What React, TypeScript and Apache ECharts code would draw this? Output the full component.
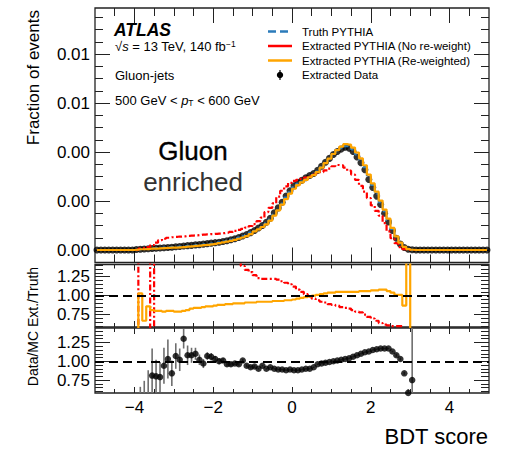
import React, { useEffect, useRef } from 'react';
import * as echarts from 'echarts';

// ---- binning ----
const binStart = -4.95; // centre of first bin (top panel)
const binWidth = 0.1;
const ratioStart = -3.95; // centre of first bin in ratio arrays

// ---- top panel: fraction of events (in units of 1e-3) ----
const dataFrac = [
  0, 0, 0, 0, 0, 0, 0, 0, 0, 0,
  0.02, 0.03, 0.04, 0.05, 0.06, 0.07, 0.08, 0.09, 0.10, 0.11,
  0.13, 0.14, 0.16, 0.18, 0.19, 0.21, 0.22, 0.24, 0.26, 0.28,
  0.30, 0.32, 0.35, 0.38, 0.42, 0.46, 0.51, 0.57, 0.63, 0.71,
  0.80, 0.90, 1.00, 1.13, 1.30, 1.52, 1.72, 1.95, 2.20, 2.42,
  2.62, 2.75, 2.85, 2.95, 3.04, 3.12, 3.25, 3.42, 3.58, 3.74,
  3.90, 4.02, 4.12, 4.20, 4.16, 4.02, 3.80, 3.56, 3.28, 2.88,
  2.55, 2.20, 1.86, 1.50, 1.14, 0.80, 0.48, 0.24, 0.10, 0.03,
  0.01, 0, 0, 0, 0, 0, 0, 0, 0, 0,
  0, 0, 0, 0, 0, 0, 0, 0, 0, 0,
];
const truthFrac = [
  0, 0, 0, 0, 0, 0, 0, 0, 0, 0,
  0.02, 0.03, 0.04, 0.05, 0.07, 0.08, 0.09, 0.10, 0.11, 0.12,
  0.13, 0.14, 0.15, 0.17, 0.18, 0.20, 0.21, 0.23, 0.25, 0.27,
  0.29, 0.32, 0.35, 0.38, 0.42, 0.46, 0.51, 0.56, 0.63, 0.71,
  0.78, 0.87, 0.97, 1.09, 1.25, 1.45, 1.66, 1.90, 2.14, 2.36,
  2.56, 2.70, 2.80, 2.90, 3.00, 3.08, 3.20, 3.38, 3.55, 3.72,
  3.90, 4.04, 4.16, 4.24, 4.22, 4.10, 3.90, 3.66, 3.38, 3.00,
  2.65, 2.30, 1.95, 1.58, 1.22, 0.86, 0.54, 0.28, 0.12, 0.04,
  0.01, 0, 0, 0, 0, 0, 0, 0, 0, 0,
  0, 0, 0, 0, 0, 0, 0, 0, 0, 0,
];
const noReweightFrac = [
  0, 0, 0, 0, 0, 0, 0, 0, 0, 0,
  0, 0.06, 0.08, 0.12, 0.2, 0.30, 0.40, 0.46, 0.50, 0.52,
  0.54, 0.55, 0.56, 0.58, 0.59, 0.60, 0.61, 0.63, 0.64, 0.65,
  0.66, 0.67, 0.69, 0.71, 0.74, 0.78, 0.82, 0.86, 0.91, 0.98,
  1.06, 1.18, 1.32, 1.55, 1.72, 1.90, 2.18, 2.42, 2.60, 2.74,
  2.82, 2.86, 2.90, 2.96, 3.02, 3.08, 3.13, 3.18, 3.25, 3.32,
  3.42, 3.47, 3.46, 3.36, 3.24, 3.08, 2.86, 2.62, 2.38, 2.12,
  1.82, 1.60, 1.40, 1.10, 0.76, 0.48, 0.28, 0.12, 0.04, 0.01,
  0, 0, 0, 0, 0, 0, 0, 0, 0, 0,
  0, 0, 0, 0, 0, 0, 0, 0, 0, 0,
];
const reweightFrac = [
  0, 0, 0, 0, 0, 0, 0, 0, 0, 0,
  0.01, 0.03, 0.03, 0.04, 0.06, 0.06, 0.07, 0.08, 0.09, 0.10,
  0.10, 0.11, 0.12, 0.14, 0.15, 0.17, 0.18, 0.20, 0.21, 0.23,
  0.25, 0.28, 0.31, 0.34, 0.37, 0.41, 0.46, 0.51, 0.57, 0.65,
  0.76, 0.84, 0.94, 1.05, 1.20, 1.40, 1.62, 1.85, 2.08, 2.30,
  2.50, 2.65, 2.76, 2.86, 2.97, 3.06, 3.18, 3.36, 3.55, 3.73,
  3.92, 4.08, 4.22, 4.32, 4.30, 4.18, 3.98, 3.74, 3.46, 3.08,
  2.72, 2.38, 2.02, 1.65, 1.28, 0.90, 0.56, 0.30, 0.13, 0.04,
  0.01, 0, 0, 0, 0, 0, 0, 0, 0, 0,
  0, 0, 0, 0, 0, 0, 0, 0, 0, 0,
];

// ---- middle panel: Extracted / Truth (bins -3.95 ... 3.05) ----
const ratioNoReweight = [
  0.3, 2, 2, 2, 0.3,
  2, 2, 2, 2, 2, 2, 2, 2, 2, 2, 2, 2, 2, 2, 2, 2, 2, 2, 2, 2, 2,
  1.45, 1.39, 1.34, 1.31, 1.27, 1.23, 1.22, 1.22, 1.22, 1.22,
  1.21, 1.19, 1.17, 1.15, 1.12, 1.08, 1.05, 1.02, 0.99, 0.96,
  0.94, 0.92, 0.91, 0.89, 0.88, 0.87, 0.85, 0.84, 0.83, 0.81,
  0.79, 0.78, 0.75, 0.72, 0.70, 0.67, 0.64, 0.62, 0.61, 0.60,
  0.60, 0.60, null, null, null,
];
const ratioReweight = [
  0.3, 1.03, 0.67, 0.86, 0.81,
  0.80, 0.80, 0.79, 0.80, 0.80, 0.79, 0.79, 0.80, 0.81, 0.83,
  0.84, 0.84, 0.85, 0.86, 0.86, 0.87, 0.88, 0.88, 0.89, 0.89,
  0.90, 0.90, 0.90, 0.91, 0.91, 0.91, 0.92, 0.92, 0.92, 0.92,
  0.93, 0.93, 0.93, 0.94, 0.94, 0.95, 0.96, 0.97, 0.98, 0.99,
  1.00, 1.01, 1.02, 1.03, 1.04, 1.04, 1.05, 1.05, 1.05, 1.05,
  1.05, 1.05, 1.06, 1.06, 1.06, 1.07, 1.07, 1.08, 1.08, 1.06,
  1.04, 1.01, 1.01, 0.87, 2, 0.3,
];

// ---- bottom panel: Data / MC (bins -3.95 ... 3.05) ----
const dataMcRatio = [
  null, 0.30, 0.40, 0.50, 0.81,
  0.80, 0.79, 0.94, 1.03, 0.84, 1.07, 1.02, 1.30, 1.08, 1.08,
  1.10, 1.02, 0.97, 1.07, 1.06, 1.03, 1.00, 1.01, 0.96, 0.96,
  0.97, 0.96, 1.01, 0.94, 0.92, 0.93, 0.90, 0.94, 0.90, 0.92,
  0.90, 0.89, 0.89, 0.88, 0.89, 0.88, 0.88, 0.89, 0.90, 0.90,
  0.92, 0.96, 0.97, 0.98, 0.99, 1.00, 1.01, 1.02, 1.03, 1.04,
  1.06, 1.08, 1.10, 1.12, 1.13, 1.15, 1.16, 1.17, 1.17, 1.17,
  1.13, 1.08, 1.03, 0.84, 0.58, 0.75,
];
const dataMcErr = [
  null, 0.36, 0.34, 0.38, 0.36,
  0.22, 0.20, 0.24, 0.26, 0.17, 0.17, 0.15, 0.13, 0.13, 0.10,
  0.08, 0.07, 0.06, 0.05, 0.05, 0.04, 0.04, 0.03, 0.03, 0.03,
  0.02, 0.02, 0.02, 0.02, 0.02, 0.02, 0.01, 0.01, 0.01, 0.01,
  0.01, 0.01, 0.01, 0.01, 0.01, 0.01, 0.01, 0.01, 0.01, 0.01,
  0.01, 0.01, 0.01, 0.01, 0.01, 0.01, 0.01, 0.01, 0.01, 0.01,
  0.01, 0.01, 0.01, 0.01, 0.01, 0.01, 0.01, 0.01, 0.01, 0.01,
  0.01, 0.02, 0.02, 0.02, 0.05, 1.0,
];

// ---- ticks ----
const xMajorTicks = [-4, -2, 0, 2, 4];
const xMinorTicks = [-4.5, -3.5, -3, -2.5, -1.5, -1, -0.5, 0.5, 1, 1.5, 2.5, 3, 3.5, 4.5];
const yTopMajorTicks = [0, 0.002, 0.004, 0.006, 0.008];
const yTopMinorTicks = [0.0005, 0.001, 0.0015, 0.0025, 0.003, 0.0035, 0.0045, 0.005, 0.0055,
  0.0065, 0.007, 0.0075, 0.0085, 0.009, 0.0095];
const ratioMajorTicks = [0.75, 1.0, 1.25];
const ratioMinorTicks = [0.6, 0.65, 0.7, 0.8, 0.85, 0.9, 0.95, 1.05, 1.1, 1.15, 1.2, 1.3, 1.35, 1.4];

const FONT = '"Liberation Sans", Arial, Helvetica, sans-serif';
const FRAME = '#222';

const centre = (start: number, i: number) => Math.round((start + i * binWidth) * 100) / 100;

export default function App() {
  const ref = useRef<HTMLDivElement>(null);

  useEffect(() => {
    if (!ref.current) return;
    const chart = echarts.init(ref.current, undefined, { renderer: 'svg' });

    const top = (arr: number[]) => arr.map((v, i) => [centre(binStart, i), v * 1e-3]);
    const rat = (arr: (number | null)[]) =>
      arr.map((v, i) => [centre(ratioStart, i), v === null ? null : v]);

    const tickStyle = { color: FRAME, width: 1 };
    const noLine = { show: false, onZero: false };
    const xAxesFor = (g: number, majLen: number, minLen: number, labels: boolean) => {
      const common: any = {
        type: 'value', gridIndex: g, min: -5, max: 5,
        splitLine: { show: false }, axisLine: noLine,
      };
      const lab = labels
        ? {
            show: true, customValues: xMajorTicks, margin: 6, fontSize: 17, color: '#000',
            fontFamily: FONT,
            formatter: (v: number) => (v < 0 ? '\u2212' + Math.abs(v) : String(v)),
          }
        : { show: false };
      return [
        { ...common, position: 'bottom', axisTick: { show: true, inside: true, length: majLen, customValues: xMajorTicks, lineStyle: tickStyle }, axisLabel: lab },
        { ...common, position: 'bottom', axisTick: { show: true, inside: true, length: minLen, customValues: xMinorTicks, lineStyle: tickStyle }, axisLabel: { show: false } },
        { ...common, position: 'top', axisTick: { show: true, inside: true, length: majLen, customValues: xMajorTicks, lineStyle: tickStyle }, axisLabel: { show: false } },
        { ...common, position: 'top', axisTick: { show: true, inside: true, length: minLen, customValues: xMinorTicks, lineStyle: tickStyle }, axisLabel: { show: false } },
      ];
    };
    const yAxesFor = (g: number, min: number, max: number, major: number[], minor: number[], fmt: (v: number) => string) => {
      const common: any = {
        type: 'value', gridIndex: g, min, max,
        splitLine: { show: false }, axisLine: noLine,
      };
      return [
        {
          ...common, position: 'left',
          axisTick: { show: true, inside: true, length: 15, customValues: major, lineStyle: tickStyle },
          axisLabel: { show: true, customValues: major, margin: 5, fontSize: 17, color: '#000', fontFamily: FONT, formatter: fmt },
        },
        { ...common, position: 'left', axisTick: { show: true, inside: true, length: 8, customValues: minor, lineStyle: tickStyle }, axisLabel: { show: false } },
        { ...common, position: 'right', axisTick: { show: true, inside: true, length: 15, customValues: major, lineStyle: tickStyle }, axisLabel: { show: false } },
        { ...common, position: 'right', axisTick: { show: true, inside: true, length: 8, customValues: minor, lineStyle: tickStyle }, axisLabel: { show: false } },
      ];
    };

    const fmt2 = (v: number) => v.toFixed(2);

    const grids = [
      { left: 95, top: 8, width: 394, height: 254.5 },
      { left: 95, top: 264.5, width: 394, height: 62.5 },
      { left: 95, top: 328, width: 394, height: 65 },
    ].map((g) => ({ ...g, show: true, borderColor: FRAME, borderWidth: 1.3, backgroundColor: 'transparent' }));

    const xAxis = [
      ...xAxesFor(0, 15, 8, false),
      ...xAxesFor(1, 6, 4, false),
      ...xAxesFor(2, 6, 4, true),
    ];
    const yAxis = [
      ...yAxesFor(0, -0.00051, 0.00988, yTopMajorTicks, yTopMinorTicks, fmt2),
      ...yAxesFor(1, 0.588, 1.41, ratioMajorTicks, ratioMinorTicks, fmt2),
      ...yAxesFor(2, 0.578, 1.443, ratioMajorTicks, ratioMinorTicks, fmt2),
    ];

    const dashLine = {
      symbol: 'none', silent: true, label: { show: false },
      lineStyle: { type: [9, 5], width: 2, color: '#000' },
      data: [{ yAxis: 1 }],
    };

    const errData = dataMcRatio
      .map((v, i) => (v === null || dataMcErr[i] === null ? null : [centre(ratioStart, i), v - (dataMcErr[i] as number), v + (dataMcErr[i] as number)]))
      .filter((d) => d !== null);

    const series: any[] = [
      // top panel
      {
        name: 'Truth PYTHIA', type: 'line', xAxisIndex: 0, yAxisIndex: 0, step: 'middle',
        showSymbol: false, data: top(truthFrac),
        lineStyle: { color: '#2b7bba', width: 2, type: [5, 3] },
      },
      {
        name: 'Extracted PYTHIA (No re-weight)', type: 'line', xAxisIndex: 0, yAxisIndex: 0, step: 'middle',
        showSymbol: false, data: top(noReweightFrac),
        lineStyle: { color: '#ff0000', width: 2.2, type: [6, 2.5, 2, 2.5] },
      },
      {
        name: 'Extracted PYTHIA (Re-weighted)', type: 'line', xAxisIndex: 0, yAxisIndex: 0, step: 'middle',
        showSymbol: false, data: top(reweightFrac),
        lineStyle: { color: '#ffa500', width: 2.2 },
      },
      {
        name: 'Extracted Data', type: 'scatter', xAxisIndex: 0, yAxisIndex: 0,
        symbolSize: 7, data: top(dataFrac), itemStyle: { color: '#000' },
      },
      // middle panel
      {
        type: 'line', xAxisIndex: 4, yAxisIndex: 4, step: 'middle', showSymbol: false,
        data: rat(ratioNoReweight), connectNulls: false,
        lineStyle: { color: '#ff0000', width: 2.2, type: [6, 2.5, 2, 2.5] },
      },
      {
        type: 'line', xAxisIndex: 4, yAxisIndex: 4, step: 'middle', showSymbol: false,
        data: rat(ratioReweight), connectNulls: false,
        lineStyle: { color: '#ffa500', width: 2.2 },
        markLine: dashLine,
      },
      // bottom panel
      {
        type: 'custom', xAxisIndex: 8, yAxisIndex: 8, clip: true,
        data: errData, encode: { x: 0, y: [1, 2] },
        renderItem: (_p: any, api: any) => {
          const a = api.coord([api.value(0), api.value(1)]);
          const b = api.coord([api.value(0), api.value(2)]);
          return {
            type: 'line',
            shape: { x1: a[0], y1: a[1], x2: b[0], y2: b[1] },
            style: { stroke: '#6e6e6e', lineWidth: 1.6 },
          };
        },
        markLine: dashLine,
      },
      {
        type: 'scatter', xAxisIndex: 8, yAxisIndex: 8, symbolSize: 6.5,
        data: rat(dataMcRatio).filter((d) => d[1] !== null), itemStyle: { color: '#000' },
      },
    ];

    const txt = (x: number, y: number, text: string, style: any = {}, extra: any = {}) => ({
      type: 'text', x, y, silent: true, ...extra,
      style: { text, fill: '#000', fontFamily: FONT, fontSize: 13, align: 'left', verticalAlign: 'middle', ...style },
    });

    const legendRows = [
      { y: 31.5, label: 'Truth PYTHIA' },
      { y: 46, label: 'Extracted PYTHIA (No re-weight)' },
      { y: 60.5, label: 'Extracted PYTHIA (Re-weighted)' },
      { y: 75, label: 'Extracted Data' },
    ];

    const graphic: any[] = [
      txt(114, 29.5, 'ATLAS', { fontSize: 17.5, fontWeight: 'bold', fontStyle: 'italic' }),
      {
        type: 'text', x: 115, y: 46.5, silent: true,
        style: {
          text: '{a|\u221A}{i|s}{n| = 13 TeV, 140 fb}{s|\u22121}',
          fontFamily: FONT, fontSize: 13, fill: '#000', verticalAlign: 'middle',
          rich: {
            a: { fontSize: 13, fontFamily: FONT },
            i: { fontSize: 13, fontStyle: 'italic', fontFamily: FONT },
            n: { fontSize: 13, fontFamily: FONT },
            s: { fontSize: 8.5, fontFamily: FONT, verticalAlign: 'top', padding: [0, 0, 6, 0] },
          },
        },
      },
      txt(115, 75, 'Gluon-jets'),
      {
        type: 'text', x: 115, y: 100.5, silent: true,
        style: {
          text: '{n|500 GeV < }{i|p}{b|T}{n| < 600 GeV}',
          fontFamily: FONT, fontSize: 13, fill: '#000', verticalAlign: 'middle',
          rich: {
            n: { fontSize: 13, fontFamily: FONT },
            i: { fontSize: 13, fontStyle: 'italic', fontFamily: FONT },
            b: { fontSize: 8.5, fontFamily: FONT, verticalAlign: 'bottom', padding: [5, 0, 0, 0] },
          },
        },
      },
      txt(193, 151, 'Gluon', { fontSize: 26, align: 'center', stroke: '#000', lineWidth: 0.35 }),
      txt(193, 182, 'enriched', { fontSize: 26, align: 'center', fill: '#333' }),
      // legend
      { type: 'line', silent: true, shape: { x1: 268, y1: legendRows[0].y, x2: 292, y2: legendRows[0].y }, style: { stroke: '#2b7bba', lineWidth: 2.5, lineDash: [8, 4] } },
      { type: 'line', silent: true, shape: { x1: 268, y1: legendRows[1].y, x2: 292, y2: legendRows[1].y }, style: { stroke: '#ff0000', lineWidth: 2.5 } },
      { type: 'line', silent: true, shape: { x1: 268, y1: legendRows[2].y, x2: 292, y2: legendRows[2].y }, style: { stroke: '#ffa500', lineWidth: 2.5 } },
      { type: 'line', silent: true, shape: { x1: 280, y1: legendRows[3].y - 5, x2: 280, y2: legendRows[3].y + 5 }, style: { stroke: '#000', lineWidth: 1.2 } },
      { type: 'circle', silent: true, shape: { cx: 280, cy: legendRows[3].y, r: 3.2 }, style: { fill: '#000' } },
      ...legendRows.map((r) => txt(302, r.y, r.label, { fontSize: 11.5 })),
      // axis titles
      txt(488, 436.5, 'BDT score', { fontSize: 22, align: 'right' }),
      txt(33, 10, 'Fraction of events', { fontSize: 17, align: 'right' }, { rotation: Math.PI / 2 }),
      txt(33, 326.5, 'Data/MC Ext./Truth', { fontSize: 14, align: 'center' }, { rotation: Math.PI / 2 }),
    ];

    chart.setOption({
      animation: false,
      backgroundColor: '#fff',
      grid: grids,
      xAxis,
      yAxis,
      series,
      graphic,
    });

    return () => chart.dispose();
  }, []);

  return (
    <div
      ref={ref}
      style={{ position: 'fixed', left: 0, top: 0, width: 511, height: 454, background: '#fff' }}
    />
  );
}
